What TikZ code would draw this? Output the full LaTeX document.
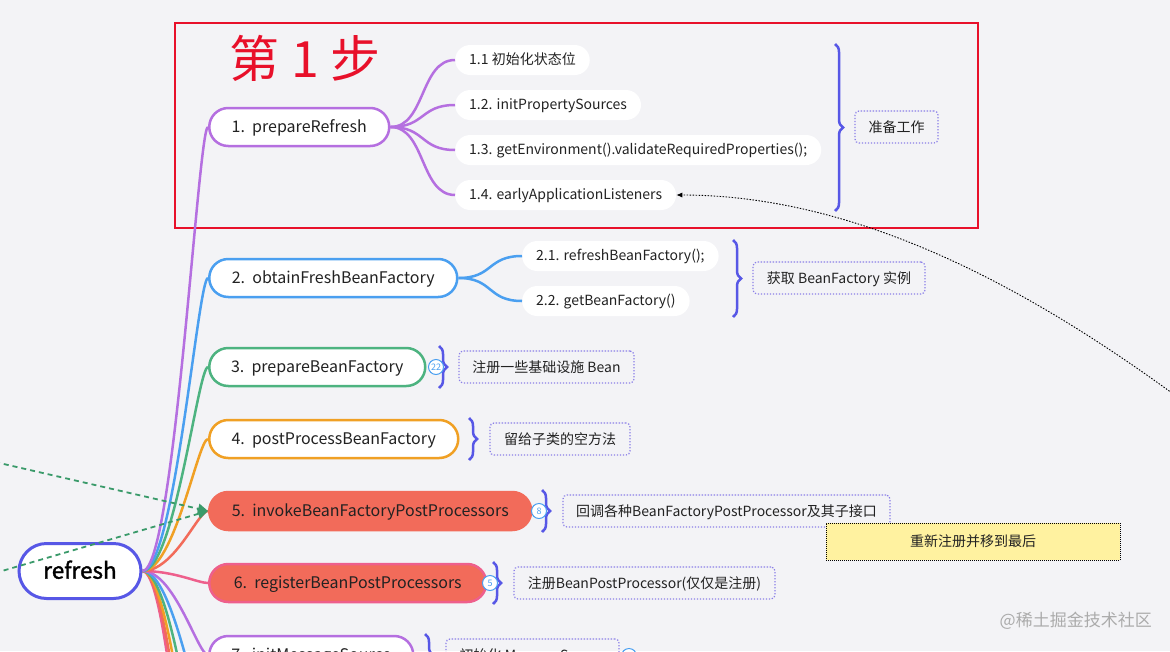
\documentclass[tikz,border=0pt]{standalone}
\usepackage{fontspec}
\setmainfont{Noto Sans CJK SC}
\newfontfamily\rootfont[FakeBold=1.4]{Noto Sans CJK SC}
\usetikzlibrary{decorations.pathreplacing,arrows.meta}
\definecolor{bgc}{HTML}{F3F3F6}
\definecolor{txtc}{HTML}{222222}
\definecolor{cpur}{HTML}{B56FE0}
\definecolor{cblue}{HTML}{4A9FF0}
\definecolor{cgreen}{HTML}{4DB380}
\definecolor{corange}{HTML}{F0A024}
\definecolor{ccoral}{HTML}{F26B5A}
\definecolor{cpink}{HTML}{EE5F8C}
\definecolor{croot}{HTML}{5757E6}
\definecolor{clbl}{HTML}{8B7FE8}
\definecolor{cred}{HTML}{E8102A}
\definecolor{cnote}{HTML}{FFF2A0}
\definecolor{cgdash}{HTML}{3A9A6A}
\definecolor{cmark}{HTML}{ABABAB}
\begin{document}
\begin{tikzpicture}[x=1pt,y=-1pt,
 mainbox/.style={draw, line width=2.5pt, fill=white, rounded corners=19pt, minimum height=38pt, inner xsep=0pt, inner ysep=0pt, text height=13pt, text depth=2pt, font=\fontsize{16}{19}\selectfont, text=txtc, anchor=west},
 subbox/.style={fill=white, rounded corners=15pt, minimum height=30pt, inner xsep=14pt, inner ysep=0pt, text height=11.6pt, text depth=2pt, font=\fontsize{14}{17}\selectfont, text=txtc, anchor=west},
 lblbox/.style={draw=clbl, line width=1.2pt, dash pattern=on 1.3pt off 1.7pt, rounded corners=4pt, minimum height=32pt, inner xsep=0pt, inner ysep=0pt, text height=12pt, text depth=2pt, font=\fontsize{14}{17}\selectfont, text=txtc},
 badge/.style={circle, draw=cblue, fill=white, line width=1pt, minimum size=15pt, inner sep=0pt, font=\fontsize{9}{9}\selectfont, text=cblue},
 bracedraw/.style={draw=croot, line width=2.5pt, decorate, decoration={brace, amplitude=8pt}},
 branch/.style={line width=2.5pt},
]
\useasboundingbox (0,0) rectangle (1170,651);
\fill[bgc] (0,0) rectangle (1170,651);
\clip (0,0) rectangle (1170,651);

% red frame and title
\draw[cred, line width=2pt] (175,23) rectangle (978,228);
\node[text=cred, font=\fontsize{50}{54}\selectfont, inner sep=0pt, text height=40pt, text depth=2pt] (title) at (305,58) {第 1 步};

% root and main nodes
\node[mainbox, draw=croot, line width=3pt, minimum width=122pt, minimum height=55pt, rounded corners=27.5pt, text height=17.4pt, text depth=2pt, font=\rootfont\fontsize{22.5}{27}\selectfont, text=black, anchor=center] (root) at (80,571) {refresh};
\node[mainbox, draw=cpur, minimum width=180pt] (n1) at (208,127) {1.\ \ prepareRefresh};
\node[mainbox, draw=cblue, minimum width=248pt] (n2) at (208,278) {2.\ \ obtainFreshBeanFactory};
\node[mainbox, draw=cgreen, minimum width=216pt] (n3) at (208,367) {3.\ \ prepareBeanFactory};
\node[mainbox, draw=corange, minimum width=249pt] (n4) at (208,439) {4.\ \ postProcessBeanFactory};
\node[mainbox, draw=ccoral, fill=ccoral, minimum width=322pt] (n5) at (208,511) {5.\ \ invokeBeanFactoryPostProcessors};
\node[mainbox, draw=cpink, fill=ccoral, minimum width=277pt] (n6) at (208,583) {6.\ \ registerBeanPostProcessors};
\node[mainbox, draw=cpur, minimum width=204pt] (n7) at (208,655) {7.\ \ initMessageSource};
\coordinate (c8) at (208,727);
\coordinate (c9) at (208,799);
\coordinate (c10) at (208,871);
\coordinate (c11) at (208,943);
\coordinate (c12) at (208,1015);

% branches from root
\foreach \tgt/\col in {c12/cpink,c11/ccoral,c10/corange,c9/cgreen,c8/cblue}
  \draw[branch, draw=\col] (root.east) .. controls +(32,0) and +(-10,0) .. (\tgt);
\foreach \tgt/\col in {n7/cpur,n6/cpink,n5/ccoral,n4/corange,n3/cgreen,n2/cblue,n1/cpur}
  \draw[branch, draw=\col] (root.east) .. controls +(32,0) and +(-10,0) .. (\tgt.west);

% sub nodes of 1
\node[subbox] (s11) at (455,60) {1.1 初始化状态位};
\node[subbox] (s12) at (455,105) {1.2. initPropertySources};
\node[subbox] (s13) at (455,150) {1.3. getEnvironment().validateRequiredProperties();};
\node[subbox] (s14) at (455,195) {1.4. earlyApplicationListeners};
\foreach \s in {s11,s12,s13,s14}
  \draw[branch, draw=cpur] (n1.east) .. controls +(35,0) and +(-35,0) .. (\s.west);

% sub nodes of 2
\node[subbox] (s21) at (522,256) {2.1. refreshBeanFactory();};
\node[subbox] (s22) at (522,301) {2.2. getBeanFactory()};
\foreach \s in {s21,s22}
  \draw[branch, draw=cblue] (n2.east) .. controls +(35,0) and +(-35,0) .. (\s.west);

% braces
\draw[bracedraw] (835,44) -- (835,211);
\draw[bracedraw] (733,240) -- (733,317);
\draw[bracedraw] (439,346) -- (439,388);
\draw[bracedraw] (469,418) -- (469,460);
\draw[bracedraw] (542,490) -- (542,532);
\draw[bracedraw] (493,562) -- (493,604);
\draw[bracedraw] (425,634) -- (425,676);

% badges
\node[badge] (b3) at (436,367) {22};
\node[badge] (b5) at (539,511) {8};
\node[badge] (b6) at (490,583) {5};
\node[badge] (b7) at (629,656) {};

% labels
\node[lblbox, minimum width=83pt] (l1) at (896.5,127) {准备工作};
\node[lblbox, minimum width=172pt] (l2) at (839,278) {获取 BeanFactory 实例};
\node[lblbox, minimum width=175pt] (l3) at (546.5,367) {注册一些基础设施 Bean};
\node[lblbox, minimum width=140pt] (l4) at (560,439) {留给子类的空方法};
\node[lblbox, minimum width=327pt] (l5) at (726.5,511) {回调各种BeanFactoryPostProcessor及其子接口};
\node[lblbox, minimum width=261pt] (l6) at (644.5,583) {注册BeanPostProcessor(仅仅是注册)};
\node[lblbox, minimum width=173pt] (l7) at (532.5,655) {初始化 MessageSource};

% yellow note
\node[draw=black, fill=cnote, line width=1pt, dash pattern=on 1pt off 1pt, minimum width=294pt, minimum height=37pt, inner sep=0pt, text height=12.6pt, text depth=2pt, font=\fontsize{14}{17}\selectfont, text=txtc] (note) at (973,541.5) {重新注册并移到最后};

% green dashed arrows
\coordinate (g1) at (-5,462);
\coordinate (g2) at (-5,573);
\draw[cgdash, line width=1.8pt, dash pattern=on 5pt off 4pt, -{Triangle[length=10pt,width=10pt]}] (g1) -- (n5.west);
\draw[cgdash, line width=1.8pt, dash pattern=on 5pt off 4pt, -{Triangle[length=10pt,width=10pt]}] (g2) -- (n5.west);

% dotted connector
\coordinate (d1) at (1172,393);
\draw[black, line width=0.9pt, dash pattern=on 1.5pt off 1.5pt, -{Latex[length=6pt,width=5pt]}] (d1) .. controls (1030,290) and (860,195) .. (s14.east);

% watermark
\node[anchor=east, text=cmark, font=\fontsize{17}{20}\selectfont, inner sep=0pt] (wm) at (1152,621) {@稀土掘金技术社区};
\end{tikzpicture}
\end{document}
